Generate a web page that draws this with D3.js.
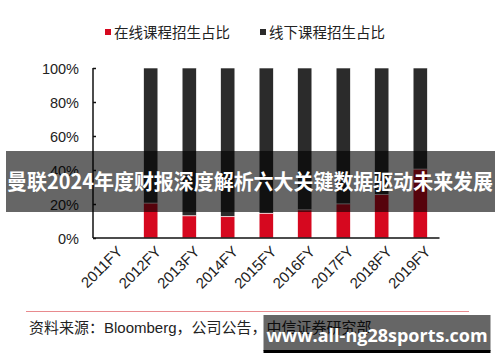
<!DOCTYPE html>
<html lang="zh">
<head>
<meta charset="utf-8">
<title>在线课程招生占比</title>
<script src="https://cdn.jsdelivr.net/npm/d3@7"></script>
<style>
body { margin: 0; background: #fff; }
svg text { font-family: "Liberation Sans", "Noto Sans CJK SC", sans-serif; }
.cjk { font-family: "Noto Sans CJK SC", sans-serif; }
</style>
</head>
<body>
<script>
// data
var years = ["2011FY", "2012FY", "2013FY", "2014FY", "2015FY", "2016FY", "2017FY", "2018FY", "2019FY"];
var online = [null, 20.5, 13, 12.5, 14.5, 16.5, 20, 25.5, 40.5];
var offline = online.map(function(d) { return d == null ? null : 100 - d; });
var yTicks = [0, 20, 40, 60, 80, 100];
var legendNames = ["在线课程招生占比", "线下课程招生占比"];
var colors = ["#d6081f", "#2b2b2b"];

var W = 500, H = 362;
var svg = d3.select("body").append("svg").attr("width", W).attr("height", H);

var x = d3.scaleBand().domain(years).range([93, 439.5]).paddingInner(0.63).paddingOuter(0.315);
var y = d3.scaleLinear().domain([0, 100]).range([238, 68]);

// stacked bars
var rows = years.map(function(yr, i) { return { year: yr, on: online[i], off: offline[i] }; })
  .filter(function(d) { return d.on != null; });

svg.selectAll(".off").data(rows).enter().append("rect")
  .attr("class", "off")
  .attr("x", function(d) { return x(d.year); })
  .attr("width", x.bandwidth())
  .attr("y", y(100))
  .attr("height", function(d) { return y(d.on) - y(100); })
  .attr("fill", colors[1])
  .attr("stroke", "#fff").attr("stroke-width", 0.6);

svg.selectAll(".on").data(rows).enter().append("rect")
  .attr("class", "on")
  .attr("x", function(d) { return x(d.year); })
  .attr("width", x.bandwidth())
  .attr("y", function(d) { return y(d.on); })
  .attr("height", function(d) { return y(0) - y(d.on); })
  .attr("fill", colors[0])
  .attr("stroke", "#fff").attr("stroke-width", 0.6);

// y axis
var yAxis = svg.append("g").attr("transform", "translate(93,0)")
  .call(d3.axisLeft(y).tickValues(yTicks).tickSize(-3).tickPadding(14)
    .tickFormat(function(d) { return d + "%"; }));
yAxis.select(".domain").attr("d", "M0," + y(0) + "V" + y(100)).attr("stroke", "#111").attr("stroke-width", 1.5);
yAxis.selectAll("line").attr("stroke", "#111").attr("stroke-width", 1.5);
yAxis.selectAll("text").attr("font-size", 14.5).attr("fill", "#222").attr("dy", "0.35em");

// x axis
var xAxis = svg.append("g").attr("transform", "translate(0," + y(0) + ")")
  .call(d3.axisBottom(x).tickSize(0).tickPadding(0));
xAxis.select(".domain").attr("d", "M93,0H439.5").attr("stroke", "#111").attr("stroke-width", 1.5);
xAxis.selectAll("text")
  .attr("font-size", 15).attr("fill", "#222")
  .attr("text-anchor", "end")
  .attr("transform", "translate(4,7) rotate(-45)")
  .attr("dy", "0.7em").attr("y", 0);

// legend
var legend = svg.append("g");
var lx = [105, 260];
legendNames.forEach(function(name, i) {
  legend.append("rect").attr("x", lx[i]).attr("y", 29).attr("width", 6).attr("height", 6).attr("fill", colors[i]);
  legend.append("text").attr("class", "cjk").attr("x", lx[i] + 9).attr("y", 38)
    .attr("font-size", 14.5).attr("fill", "#222").text(name);
});

// source
svg.append("line").attr("x1", 26).attr("x2", 469).attr("y1", 311.5).attr("y2", 311.5)
  .attr("stroke", "#e88a8e").attr("stroke-width", 1.2);
svg.append("text").attr("x", 29).attr("y", 333).attr("font-size", 15)
  .attr("fill", "#222").text("资料来源：Bloomberg，公司公告，中信证券研究部");

// title banner
svg.append("rect").attr("x", 6).attr("y", 151).attr("width", 489).attr("height", 61).attr("fill", "rgba(0,0,0,0.6)");
svg.append("text").attr("class", "cjk").attr("x", 7).attr("y", 189)
  .attr("font-size", 21).attr("font-weight", "bold").attr("fill", "#fff")
  .attr("textLength", 486).attr("lengthAdjust", "spacingAndGlyphs")
  .text("曼联2024年度财报深度解析六大关键数据驱动未来发展");

// watermark
svg.append("rect").attr("x", 263.5).attr("y", 315).attr("width", 227).attr("height", 36).attr("fill", "rgba(0,0,0,0.6)");
svg.append("rect").attr("x", 263.5).attr("y", 350).attr("width", 227).attr("height", 3).attr("fill", "#000");
svg.append("text").attr("x", 377).attr("y", 342).attr("text-anchor", "middle")
  .style("font-family", "'Open Sans', sans-serif")
  .attr("font-size", 18).attr("font-weight", "bold").attr("fill", "#fff")
  .text("www.all-ng28sports.com");
</script>
</body>
</html>
